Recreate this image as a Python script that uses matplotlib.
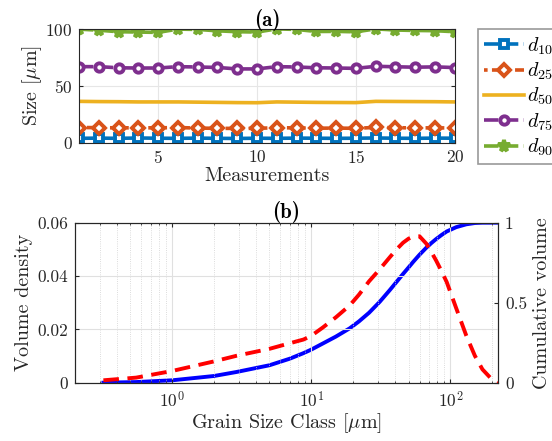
import numpy as np
import matplotlib
matplotlib.use("Agg")
import matplotlib.pyplot as plt
from matplotlib.ticker import LogLocator, NullFormatter

plt.rcParams['font.family'] = 'serif'
plt.rcParams['font.serif'] = ['cmr10', 'DejaVu Serif']
plt.rcParams['mathtext.fontset'] = 'cm'
plt.rcParams['axes.formatter.use_mathtext'] = True
plt.rcParams['axes.unicode_minus'] = False

# (a) percentiles over 20 measurements
meas = np.arange(1, 21)
d10 = [4.0, 4.2, 4.0, 4.3, 4.1, 4.0, 4.2, 4.0, 3.9, 4.1, 4.0, 4.2, 4.1, 4.0, 4.1, 4.3, 4.1, 4.0, 4.2, 4.1]
d25 = [13.5, 13.4, 13.2, 13.3, 13.2, 13.5, 13.0, 12.8, 12.7, 12.8, 13.3, 13.2, 12.9, 13.0, 12.8, 13.6, 13.3, 13.2, 13.2, 13.1]
d50 = [36.5, 36.3, 36.2, 36.0, 36.0, 36.0, 35.8, 35.6, 35.4, 35.3, 36.0, 35.8, 35.6, 35.5, 35.4, 36.5, 36.4, 36.3, 36.2, 36.0]
d75 = [67.0, 67.0, 66.0, 65.8, 65.8, 67.0, 66.7, 66.3, 65.0, 65.0, 67.0, 66.7, 66.0, 65.8, 65.5, 67.3, 66.9, 66.5, 66.8, 66.2]
d90 = [100.0, 99.0, 97.7, 97.4, 97.1, 100.0, 99.7, 98.5, 97.7, 97.4, 100.2, 99.7, 97.9, 98.0, 97.6, 100.2, 99.2, 98.8, 98.6, 97.7]

# (b) grain size distribution
grain = [0.32, 0.55, 1.0, 2.0, 2.9, 5.0, 7.0, 8.8, 10, 12.1, 15, 18.9, 22, 26, 31, 36.6, 41, 45.7, 50, 54, 60, 67, 73, 79, 86, 94, 110, 130, 150, 170, 195, 220]
density = [0.0009, 0.0019, 0.0044, 0.0080, 0.0101, 0.0127, 0.0148, 0.0162, 0.0176, 0.0207, 0.0245, 0.0290, 0.0330, 0.0380, 0.0425, 0.0470, 0.0500, 0.0525, 0.0540, 0.0548, 0.0549, 0.0522, 0.0490, 0.0458, 0.0420, 0.0378, 0.0280, 0.0177, 0.0101, 0.0050, 0.0017, 0.0000]
cumul = [0.000, 0.004, 0.015, 0.042, 0.067, 0.109, 0.150, 0.185, 0.207, 0.245, 0.288, 0.340, 0.383, 0.437, 0.505, 0.578, 0.630, 0.680, 0.720, 0.755, 0.800, 0.843, 0.873, 0.898, 0.922, 0.945, 0.972, 0.990, 0.998, 1.000, 1.000, 1.000]

labels = ['$d_{10}$', '$d_{25}$', '$d_{50}$', '$d_{75}$', '$d_{90}$']
colors = ['#0072BD', '#D95319', '#EDB120', '#7E2F8E', '#77AC30']
markers = ['s', 'D', None, 'o', '*']
styles = [(0, (4, 1.5)), (0, (1, 1.2, 3, 1.2)), '-', (0, (4, 1.5)), (0, (4, 1.5))]
gray = '#262626'

fig = plt.figure(figsize=(5.52, 4.41), dpi=100)

ax1 = fig.add_axes([0.143, 0.676, 0.681, 0.258])
for y, lab, c, m, ls in zip([d10, d25, d50, d75, d90], labels, colors, markers, styles):
    if m is None:
        ax1.plot(meas, y, ls, color=c, lw=2.6, label=lab)
    else:
        ms = 8.5 if m == '*' else 6.0
        fc = c if m == '*' else 'white'
        ax1.plot(meas, y, linestyle=ls, color=c, lw=2.6, marker=m, ms=ms,
                 mfc=fc, mec=c, mew=2.8, label=lab)
ax1.set_xlim(1, 20)
ax1.set_ylim(0, 100)
ax1.set_xticks([5, 10, 15, 20])
ax1.set_yticks([0, 50, 100])
ax1.grid(True, color='#e6e6e6', lw=0.8)
ax1.set_axisbelow(True)
ax1.tick_params(direction='in', labelsize=12.5, colors=gray, top=True, right=True, length=3, pad=4.5)
for s in ax1.spines.values():
    s.set_color(gray)
ax1.set_xlabel('Measurements', fontsize=14.5, color=gray, labelpad=1)
ax1.set_ylabel(r'Size [$\mu$m]', fontsize=14.5, color=gray, labelpad=1)
ax1.set_title('(a)', fontfamily='cmb10', fontsize=15, pad=2)
leg = ax1.legend(loc='upper left', bbox_to_anchor=(0.866, 0.934), bbox_transform=fig.transFigure,
                 fontsize=14.5, frameon=True, fancybox=False, handlelength=2.0,
                 labelspacing=0.2, borderpad=0.3, handletextpad=0.15, borderaxespad=0)
leg.get_frame().set_edgecolor('#808080')
leg.get_frame().set_linewidth(1.2)

ax2 = fig.add_axes([0.1359, 0.1322, 0.7663, 0.3628])
ax2.plot(grain, density, color='red', lw=2.8, linestyle=(0, (4, 2.2)))
ax2.set_xscale('log')
ax2.set_xlim(0.2, 220)
ax2.set_ylim(0, 0.06)
ax2.set_yticks([0, 0.02, 0.04, 0.06])
ax2.set_yticklabels(['0', '0.02', '0.04', '0.06'])
ax2.xaxis.set_minor_locator(LogLocator(base=10, subs=np.arange(2, 10)))
ax2.xaxis.set_minor_formatter(NullFormatter())
ax2.grid(True, which='major', color='#e0e0e0', lw=0.8)
ax2.grid(True, which='minor', axis='x', color='#d0d0d0', lw=0.6, linestyle=':')
ax2.set_axisbelow(True)
ax2.tick_params(which='both', direction='in', labelsize=12.5, colors=gray, top=True, pad=5)
ax2.tick_params(which='major', length=3)
ax2.tick_params(which='minor', length=1.5)
ax2.set_xlabel(r'Grain Size Class [$\mu$m]', fontsize=14.5, color=gray, labelpad=1)
ax2.set_ylabel('Volume density', fontsize=14.5, color=gray, labelpad=3)
ax2.set_title('(b)', fontfamily='cmb10', fontsize=15, pad=2)

ax3 = ax2.twinx()
ax3.plot(grain, cumul, color='blue', lw=2.8)
ax3.set_ylim(0, 1)
ax3.set_yticks([0, 0.5, 1])
ax3.set_yticklabels(['0', '0.5', '1'])
ax3.tick_params(direction='in', labelsize=12.5, colors=gray, length=3, pad=5)
ax3.set_ylabel('Cumulative volume', fontsize=14.5, color=gray, rotation=90, labelpad=4)
for a in (ax2, ax3):
    for s in a.spines.values():
        s.set_color(gray)
ax2.set_zorder(ax3.get_zorder() + 1)
ax2.patch.set_visible(False)

fig.savefig('out.png', dpi=100)
